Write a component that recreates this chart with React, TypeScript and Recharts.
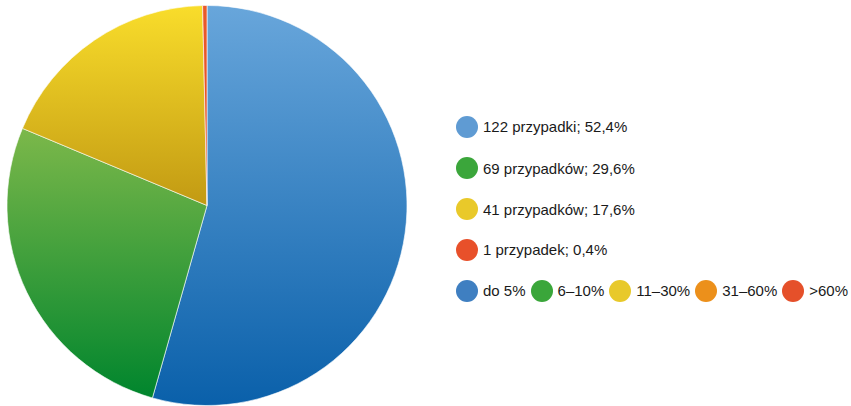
import React from 'react';
import { PieChart, Pie, Cell } from 'recharts';

// shares as drawn in the picture (degrees of each slice / 360)
const sliceNames = ['do 5%', '6–10%', '11–30%', '>60%'];
const sliceShares = [54.4, 26.9, 18.35, 0.35];
const sliceLabels = ['122 przypadki; 52,4%', '69 przypadków; 29,6%', '41 przypadków; 17,6%', '1 przypadek; 0,4%'];
const sliceDots = ['#5f9bd3', '#3ba63b', '#e9c92a', '#e8502a'];
const gradTop = ['#68a6db', '#7cb84a', '#f9dd2b', '#e95a2a'];
const gradBottom = ['#0a60aa', '#00852d', '#c29a13', '#e24a24'];

const rangeNames = ['do 5%', '6–10%', '11–30%', '31–60%', '>60%'];
const rangeColors = ['#3f7fc1', '#3aa63a', '#e8c92a', '#ec901b', '#e5502a'];

const data = sliceNames.map((name, i) => ({ name, value: sliceShares[i] }));

const font = '"Liberation Sans", Arial, sans-serif';
const rowY = [126.5, 168, 209, 249.5];

const Dot: React.FC<{ color: string }> = ({ color }) => (
  <span style={{ display: 'inline-block', width: 22, height: 22, borderRadius: 11, background: color, marginRight: 5, flexShrink: 0 }} />
);

const App: React.FC = () => {
  return (
    <div style={{ position: 'absolute', left: 0, top: 0, width: 851, height: 406, background: '#fff', fontFamily: font, overflow: 'hidden' }}>
      <PieChart width={851} height={406} margin={{ top: 0, right: 0, bottom: 0, left: 0 }}>
        <defs>
          {gradTop.map((c, i) => (
            <linearGradient key={i} id={`g${i}`} x1="0" y1="0" x2="0" y2="1">
              <stop offset="0%" stopColor={c} />
              <stop offset="100%" stopColor={gradBottom[i]} />
            </linearGradient>
          ))}
        </defs>
        <Pie
          data={data}
          dataKey="value"
          cx={207}
          cy={205.5}
          outerRadius={200}
          startAngle={90}
          endAngle={-270}
          stroke="#ffffff"
          strokeWidth={0.6}
          isAnimationActive={false}
        >
          {data.map((_, i) => (
            <Cell key={i} fill={`url(#g${i})`} />
          ))}
        </Pie>
      </PieChart>

      {sliceLabels.map((label, i) => (
        <div
          key={label}
          style={{ position: 'absolute', left: 456, top: rowY[i] - 11, height: 22, display: 'flex', alignItems: 'center', fontSize: 15, color: '#1a1a1a', whiteSpace: 'nowrap' }}
        >
          <Dot color={sliceDots[i]} />
          <span>{label}</span>
        </div>
      ))}

      <div style={{ position: 'absolute', left: 456, top: 290.5 - 11, height: 22, display: 'flex', alignItems: 'center', fontSize: 15, color: '#1a1a1a', whiteSpace: 'nowrap' }}>
        {rangeNames.map((n, i) => (
          <span key={n} style={{ display: 'flex', alignItems: 'center', marginRight: 5 }}>
            <Dot color={rangeColors[i]} />
            <span>{n}</span>
          </span>
        ))}
      </div>
    </div>
  );
};

export default App;
